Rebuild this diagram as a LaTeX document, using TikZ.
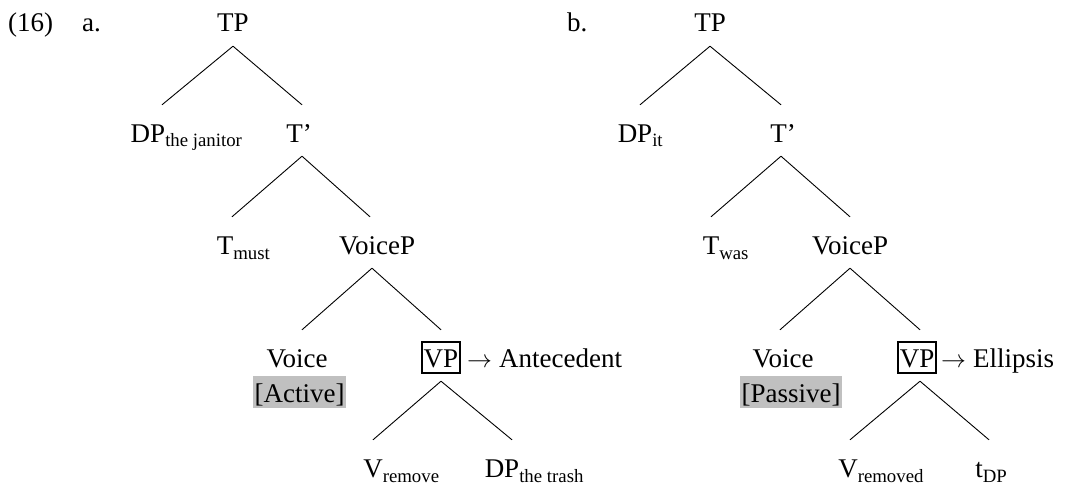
\documentclass[tikz,border=0pt]{standalone}
\usepackage{fontspec}
\setmainfont{Liberation Serif}
\definecolor{featgray}{HTML}{C0C0C0}
\newcommand\sbs[1]{\raisebox{-5pt}{\fontsize{18.8}{20}\selectfont #1}}
\newcommand\hd[2]{#1\rlap{\sbs{#2}}}
\newcommand\arr{$\rightarrow$\hspace{7pt}}
\begin{document}
\begin{tikzpicture}[x=1pt,y=-1pt,
  every node/.style={font=\fontsize{27}{30}\selectfont, inner sep=0pt},
  tn/.style={anchor=base, text height=37pt, text depth=14pt},
  br/.style={line width=0.9pt},
  feat/.style={anchor=base, fill=featgray, inner xsep=1.2pt, inner ysep=0pt, text height=26pt, text depth=6pt},
  lab/.style={anchor=base west},
  vpbox/.style={anchor=base, text height=37pt, text depth=14pt}]
\useasboundingbox (0,0) rectangle (1067,484);
\setlength\fboxsep{0.8pt}\setlength\fboxrule{1.8pt}
% labels
\node[lab] (ex) at (8,32) {(16)};
\node[lab] (la) at (82,32) {a.};
\node[lab] (lb) at (567,32) {b.};
% tree a
\node[tn] (TPa) at (233,32) {TP};
\node[tn] (DPa) at (148,142) {\hd{DP}{the janitor}};
\node[tn] (Tba) at (299,142) {T’};
\node[tn] (Tmust) at (225,254) {\hd{T}{must}};
\node[tn] (VoicePa) at (377,254) {VoiceP};
\node[tn] (Voicea) at (297,367) {Voice};
\node[feat] (Active) at (299.5,402) {[Active]};
\node[vpbox] (VPa) at (441,367) {\fbox{\rule[-4pt]{0pt}{27pt}VP}};
\node[lab] (Ante) at (467,367) {\arr Antecedent};
\node[tn] (Vrem) at (373,477) {\hd{V}{remove}};
\node[tn] (DPtrash) at (502,477) {\hd{DP}{the trash}};
\draw[br] (TPa.south) -- ([xshift=14pt]DPa.north);
\draw[br] (TPa.south) -- ([xshift=3pt]Tba.north);
\draw[br] ([xshift=3pt]Tba.south) -- ([xshift=7pt]Tmust.north);
\draw[br] ([xshift=3pt]Tba.south) -- ([xshift=-7pt]VoicePa.north);
\draw[br] ([xshift=-5pt]VoicePa.south) -- ([xshift=5pt]Voicea.north);
\draw[br] ([xshift=-5pt]VoicePa.south) -- (VPa.north);
\draw[br] (VPa.south) -- (Vrem.north);
\draw[br] (VPa.south) -- ([xshift=10pt]DPtrash.north);
% tree b
\node[tn] (TPb) at (710,32) {TP};
\node[tn] (DPit) at (635,142) {\hd{DP}{it}};
\node[tn] (Tbb) at (783,142) {T’};
\node[tn] (Twas) at (711,254) {\hd{T}{was}};
\node[tn] (VoicePb) at (850,254) {VoiceP};
\node[tn] (Voiceb) at (783,367) {Voice};
\node[feat] (Passive) at (791,402) {[Passive]};
\node[vpbox] (VPb) at (917,367) {\fbox{\rule[-4pt]{0pt}{27pt}VP}};
\node[lab] (Ell) at (941,367) {\arr Ellipsis};
\node[tn] (Vremd) at (848,477) {\hd{V}{removed}};
\node[tn] (tDP) at (979,477) {\hd{t}{DP}};
\draw[br] (TPb.south) -- ([xshift=5pt]DPit.north);
\draw[br] (TPb.south) -- ([xshift=-2pt]Tbb.north);
\draw[br] ([xshift=-2pt]Tbb.south) -- (Twas.north);
\draw[br] ([xshift=-2pt]Tbb.south) -- (VoicePb.north);
\draw[br] (VoicePb.south) -- ([xshift=-3pt]Voiceb.north);
\draw[br] (VoicePb.south) -- ([xshift=3pt]VPb.north);
\draw[br] ([xshift=3pt]VPb.south) -- ([xshift=2pt]Vremd.north);
\draw[br] ([xshift=3pt]VPb.south) -- ([xshift=10pt]tDP.north);
\end{tikzpicture}
\end{document}
